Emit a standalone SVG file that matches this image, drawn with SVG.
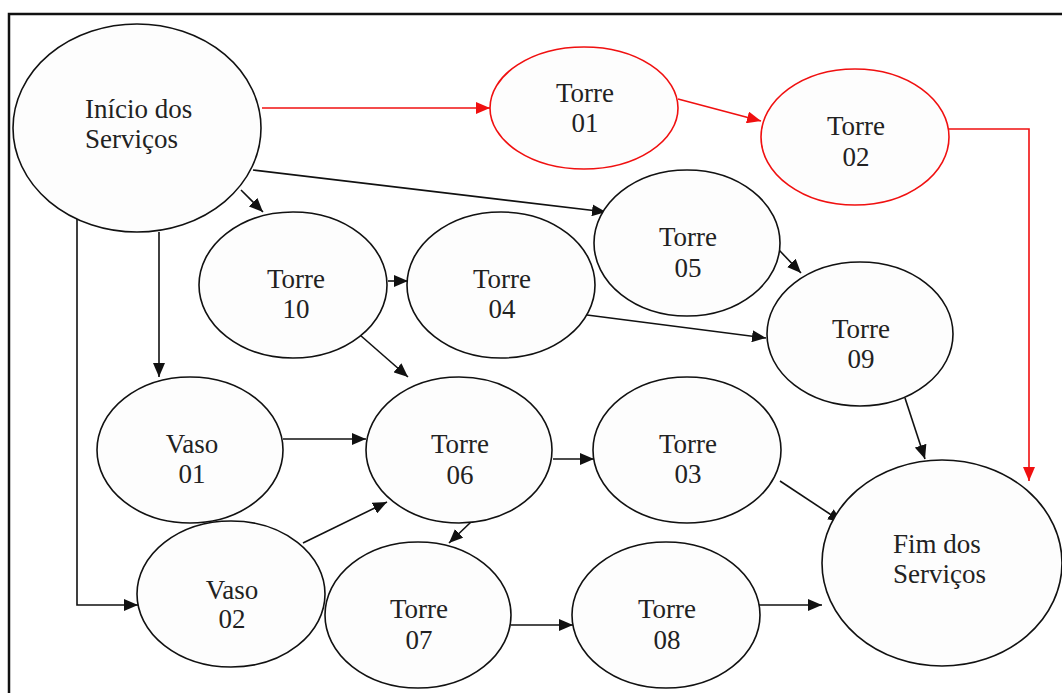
<svg xmlns="http://www.w3.org/2000/svg" width="1062" height="693" viewBox="0 0 1062 693">
  <style>
    .node { fill: #fdfdfd; stroke: #111; stroke-width: 1.6; }
    .node.red { stroke: #f01010; }
    .lbl { font-family: "Liberation Serif", "Times New Roman", serif; font-size: 27px; fill: #222; }
    .mid { text-anchor: middle; }
    .edge { fill: none; stroke: #111; stroke-width: 1.6; marker-end: url(#arrow); }
    .edge.red { stroke: #f01010; marker-end: url(#arrow-red); }
  </style>
  <defs>
    <marker id="arrow" viewBox="0 0 14 12" refX="14" refY="6" markerWidth="14" markerHeight="12" markerUnits="userSpaceOnUse" orient="auto">
      <path d="M0,0 L14,6 L0,12 z" fill="#111"/>
    </marker>
    <marker id="arrow-red" viewBox="0 0 14 12" refX="14" refY="6" markerWidth="14" markerHeight="12" markerUnits="userSpaceOnUse" orient="auto">
      <path d="M0,0 L14,6 L0,12 z" fill="#f01010"/>
    </marker>
  </defs>

  <rect width="1062" height="693" fill="#ffffff"/>
  <!-- frame -->
  <path d="M9,693 V14 H1062" fill="none" stroke="#111" stroke-width="2.5"/>

  <!-- connectors -->
  <g id="connectors">
    <path class="edge red" d="M262,108 H490"/>
    <path class="edge red" d="M678,99 L761,121"/>
    <path class="edge red" d="M948,129 H1029 V481"/>
    <path class="edge" d="M241,190 L263,212"/>
    <path class="edge" d="M253,170 L606,212"/>
    <path class="edge" d="M159,232 V377"/>
    <path class="edge" d="M77,212 V605 H138"/>
    <path class="edge" d="M388,281 H408"/>
    <path class="edge" d="M360,335 L408,377"/>
    <path class="edge" d="M779,250 L801,273"/>
    <path class="edge" d="M587,315 L766,338"/>
    <path class="edge" d="M905,398 L925,459"/>
    <path class="edge" d="M283,439 H366"/>
    <path class="edge" d="M553,459 H594"/>
    <path class="edge" d="M780,481 L842,522"/>
    <path class="edge" d="M303,543 L387,502"/>
    <path class="edge" d="M471,522 L449,543"/>
    <path class="edge" d="M511,625 H573"/>
    <path class="edge" d="M758,605 H822"/>
  </g>

  <!-- nodes -->
  <g id="inicio">
    <ellipse class="node" cx="137" cy="128" rx="124" ry="104"/>
    <text class="lbl" x="85" y="118">Início dos</text>
    <text class="lbl" x="85" y="148">Serviços</text>
  </g>
  <g id="torre01">
    <ellipse class="node red" cx="584" cy="108" rx="94" ry="61"/>
    <text class="lbl mid" x="585" y="102">Torre</text>
    <text class="lbl mid" x="585" y="132">01</text>
  </g>
  <g id="torre02">
    <ellipse class="node red" cx="855" cy="137" rx="94" ry="68"/>
    <text class="lbl mid" x="856" y="135">Torre</text>
    <text class="lbl mid" x="856" y="166">02</text>
  </g>
  <g id="torre05">
    <ellipse class="node" cx="687" cy="243" rx="93" ry="73"/>
    <text class="lbl mid" x="688" y="246">Torre</text>
    <text class="lbl mid" x="688" y="277">05</text>
  </g>
  <g id="torre10">
    <ellipse class="node" cx="293" cy="285" rx="94" ry="73"/>
    <text class="lbl mid" x="296" y="288">Torre</text>
    <text class="lbl mid" x="296" y="318">10</text>
  </g>
  <g id="torre04">
    <ellipse class="node" cx="501" cy="285" rx="94" ry="73"/>
    <text class="lbl mid" x="502" y="288">Torre</text>
    <text class="lbl mid" x="502" y="318">04</text>
  </g>
  <g id="torre09">
    <ellipse class="node" cx="860" cy="334" rx="93" ry="72"/>
    <text class="lbl mid" x="861" y="338">Torre</text>
    <text class="lbl mid" x="861" y="368">09</text>
  </g>
  <g id="vaso01">
    <ellipse class="node" cx="190" cy="450" rx="93" ry="73"/>
    <text class="lbl mid" x="192" y="453">Vaso</text>
    <text class="lbl mid" x="192" y="483">01</text>
  </g>
  <g id="torre06">
    <ellipse class="node" cx="459" cy="450" rx="93" ry="73"/>
    <text class="lbl mid" x="460" y="453">Torre</text>
    <text class="lbl mid" x="460" y="484">06</text>
  </g>
  <g id="torre03">
    <ellipse class="node" cx="687" cy="450" rx="94" ry="73"/>
    <text class="lbl mid" x="688" y="453">Torre</text>
    <text class="lbl mid" x="688" y="483">03</text>
  </g>
  <g id="vaso02">
    <ellipse class="node" cx="231" cy="594" rx="94" ry="73"/>
    <text class="lbl mid" x="232" y="599">Vaso</text>
    <text class="lbl mid" x="232" y="628">02</text>
  </g>
  <g id="torre07">
    <ellipse class="node" cx="418" cy="615" rx="93" ry="73"/>
    <text class="lbl mid" x="419" y="618">Torre</text>
    <text class="lbl mid" x="419" y="649">07</text>
  </g>
  <g id="torre08">
    <ellipse class="node" cx="666" cy="615" rx="94" ry="73"/>
    <text class="lbl mid" x="667" y="618">Torre</text>
    <text class="lbl mid" x="667" y="649">08</text>
  </g>
  <g id="fim">
    <ellipse class="node" cx="942" cy="563" rx="120" ry="103"/>
    <text class="lbl" x="893" y="553">Fim dos</text>
    <text class="lbl" x="893" y="583">Serviços</text>
  </g>
</svg>
